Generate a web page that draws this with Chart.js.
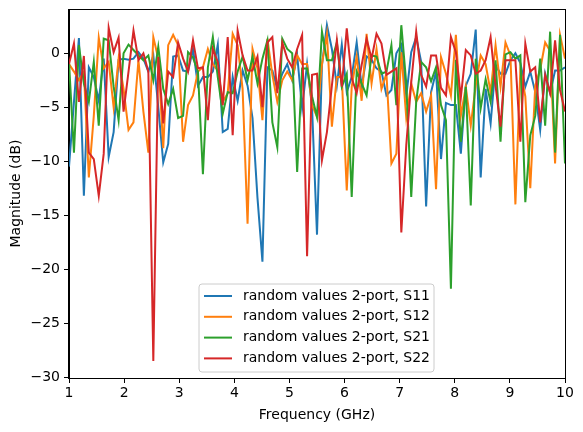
<!DOCTYPE html>
<html><head><meta charset="utf-8">
<script src="https://cdn.jsdelivr.net/npm/chart.js@4/dist/chart.umd.min.js"></script>
<style>html,body{margin:0;padding:0;background:#fff}canvas{display:block}</style>
</head><body>
<canvas id="c" width="583" height="432"></canvas>
<script>
// frequency sweep (GHz)
const freqStart = 1, freqStop = 10, nPoints = 101;
const seriesLabels = ['random values 2-port, S11','random values 2-port, S12','random values 2-port, S21','random values 2-port, S22'];
const xTickValues = [1,2,3,4,5,6,7,8,9,10];
const yTickValues = [-30,-25,-20,-15,-10,-5,0];

const s11 = [-10.5,-4.5,1.4,-13.2,-1.3,-2.2,-4.4,-0.5,-9.6,-7.3,
 -0.6,-0.5,-0.6,-0.5,0.1,-0.5,-1.7,-0.2,-5.0,-10.1,
 -8.4,-0.3,-0.2,-1.6,-1.7,0.4,-3.0,-2.2,-2.2,-1.7,
 0.8,-7.3,-7.0,-2.2,-4.4,-1.6,-3.0,-6.0,-13.4,-19.3,
 -1.3,-1.6,-3.3,-1.9,-1.0,-2.5,-0.2,-5.1,-1.0,-5.0,
 -16.8,-1.1,2.6,0.4,-3.0,0.8,-3.6,-2.2,1.0,-3.1,
 -0.3,-0.6,-1.4,-1.7,-3.9,-3.4,0.0,0.8,-4.0,0.1,
 1.5,-0.8,-14.2,-3.6,-1.7,-9.8,-4.6,-4.8,-4.8,-9.3,
 -3.0,-1.9,2.2,-11.5,-3.3,-6.5,-1.1,-1.9,-1.9,-0.65,
 0.0,-0.9,-3.1,-1.7,-3.6,-7.1,-1.9,-3.7,-1.6,-1.6,-1.3];
const s12 = [-1.0,-1.7,-2.5,-1.7,-11.5,-5.8,1.45,-1.4,-0.8,-5.0,
 -0.5,-3.3,-7.1,-6.4,-0.65,-5.4,-9.2,1.5,-0.5,-8.8,
 0.75,1.7,0.75,-8.2,-4.8,-3.9,-1.7,-1.3,0.4,-1.0,
 -1.6,-4.5,-3.7,1.8,0.75,-3.3,-15.8,0.4,-1.4,-6.2,
 1.35,-2.0,-4.5,-2.5,-1.7,-2.5,-0.2,-1.0,-1.0,-4.8,
 -5.9,-1.0,1.8,-6.8,-2.2,-2.2,-12.7,-3.1,-0.3,-4.4,
 1.8,-2.8,0.4,-3.3,-1.9,-10.2,-9.3,0.1,-6.0,-2.8,
 -4.5,-3.7,-5.4,-3.9,-12.6,-0.35,-1.9,-3.9,1.7,-5.8,
 -3.1,-6.7,-3.0,-0.2,-1.0,-3.6,0.75,-3.1,1.0,-0.2,
 -14.0,-1.5,-4.0,-12.5,-3.0,-1.5,1.0,0.2,-10.2,1.7,-0.5];
const s21 = [-0.8,-9.2,0.75,-2.8,-4.5,-0.8,-6.7,1.35,1.2,-3.1,
 -6.2,0.0,0.8,0.3,-0.2,-0.65,-0.2,-2.5,0.6,-3.3,
 -4.7,-3.3,-6.0,-5.8,0.1,-0.4,-1.7,-11.2,-1.3,1.5,
 -2.2,-5.6,-3.6,-3.7,-1.7,-0.3,-2.5,-0.3,-2.8,-0.5,
 1.2,-6.4,-8.7,1.35,0.4,0.0,-11.0,-1.4,-1.4,-4.0,
 -5.9,2.0,-0.65,-0.65,1.0,-3.1,-1.9,-13.3,-1.7,-2.8,
 -3.9,-0.2,-0.3,-1.9,-1.7,0.75,-4.8,2.6,-2.8,-13.3,
 -4.5,-0.8,-1.3,-2.6,-1.3,-4.8,-6.2,-21.8,-0.6,-8.2,
 -3.1,-14.1,-0.5,-5.1,-2.4,-4.5,-0.65,-8.2,-0.1,0.1,
 -0.5,-0.2,-13.8,-7.6,-5.8,-0.5,-6.7,2.0,-9.2,1.7,-10.2];
const s22 = [-1.0,0.9,-4.5,-0.25,-9.2,-9.8,-13.2,-9.3,2.35,0.1,
 1.45,-5.4,-1.7,2.1,-0.65,0.0,-1.7,-28.5,-0.35,-6.5,
 -1.7,-2.2,1.0,-0.5,-1.7,1.2,-1.4,-1.3,-6.2,0.4,
 -0.8,-4.8,1.5,-7.6,2.1,-0.2,-1.6,-1.6,-0.3,-5.0,
 1.0,1.5,-3.7,1.0,-0.5,-1.3,0.4,1.7,-18.8,-2.0,
 -1.9,-9.9,-7.3,-3.0,1.2,-3.1,2.3,-2.3,-3.7,-1.1,
 1.35,-0.5,1.8,0.9,-2.0,-1.7,-1.4,-16.6,-8.5,-2.7,
 2.0,-2.0,-3.1,-0.2,-0.2,-3.2,-3.9,1.5,0.1,-4.1,
 0.3,-0.2,-1.9,-1.6,-0.65,1.5,-3.0,-6.8,-0.65,-0.65,
 -0.65,-8.2,0.9,-1.7,-1.3,-6.4,-2.0,-3.7,1.2,-3.4,-5.4];

const seriesValues = [s11, s12, s21, s22];
const seriesColors = ['#1f77b4','#ff7f0e','#2ca02c','#d62728'];

const freq = [];
for (let i = 0; i < nPoints; i++) freq.push(freqStart + (freqStop - freqStart) * i / (nPoints - 1));

const FONT = '"DejaVu Sans", sans-serif';

const datasets = seriesValues.map((vals, k) => ({
  label: seriesLabels[k],
  data: vals.map((v, i) => ({x: freq[i], y: v})),
  borderColor: seriesColors[k],
  backgroundColor: seriesColors[k],
  borderWidth: 2,
  pointRadius: 0,
  tension: 0,
  fill: false,
  order: seriesValues.length - k
}));

const frameAndLegend = {
  id: 'frameAndLegend',
  afterDatasetsDraw(chart) {
    const ctx = chart.ctx, a = chart.chartArea;
    ctx.save();
    ctx.strokeStyle = '#000';
    ctx.lineWidth = 1;
    ctx.strokeRect(Math.round(a.left) + 0.5 - 1, Math.round(a.top) + 0.5, Math.round(a.right - a.left) + 1, Math.round(a.bottom - a.top));
    // legend box
    const bx = a.left + 130, by = a.top + 275, bw = 235, bh = 88, r = 3;
    ctx.beginPath();
    ctx.moveTo(bx + r, by);
    ctx.lineTo(bx + bw - r, by); ctx.quadraticCurveTo(bx + bw, by, bx + bw, by + r);
    ctx.lineTo(bx + bw, by + bh - r); ctx.quadraticCurveTo(bx + bw, by + bh, bx + bw - r, by + bh);
    ctx.lineTo(bx + r, by + bh); ctx.quadraticCurveTo(bx, by + bh, bx, by + bh - r);
    ctx.lineTo(bx, by + r); ctx.quadraticCurveTo(bx, by, bx + r, by);
    ctx.closePath();
    ctx.fillStyle = 'rgba(255,255,255,0.8)';
    ctx.fill();
    ctx.strokeStyle = '#cccccc';
    ctx.lineWidth = 1;
    ctx.stroke();
    ctx.font = '14px ' + FONT;
    ctx.textBaseline = 'middle';
    ctx.textAlign = 'left';
    for (let k = 0; k < seriesLabels.length; k++) {
      const yy = by + 12 + k * 20.8;
      ctx.strokeStyle = seriesColors[k];
      ctx.lineWidth = 2;
      ctx.beginPath();
      ctx.moveTo(bx + 5, yy); ctx.lineTo(bx + 33, yy);
      ctx.stroke();
      ctx.fillStyle = '#000';
      ctx.fillText(seriesLabels[k], bx + 44, yy);
    }
    ctx.restore();
  }
};

new Chart(document.getElementById('c'), {
  type: 'line',
  data: { datasets },
  plugins: [frameAndLegend],
  options: {
    responsive: false,
    animation: false,
    devicePixelRatio: 1,
    layout: { padding: { left: 0, right: 18, top: 9, bottom: 0 } },
    plugins: { legend: { display: false }, tooltip: { enabled: false } },
    scales: {
      x: {
        type: 'linear', min: 1, max: 10,
        afterBuildTicks(s) { s.ticks = xTickValues.map(v => ({value: v})); },
        afterFit(s) { s.height = 54; s.paddingLeft = 0; s.paddingRight = 0; },
        grid: { drawOnChartArea: false, drawTicks: true, tickLength: 5, color: '#000', tickWidth: 1 },
        border: { display: true, color: '#000', width: 1 },
        ticks: { color: '#000', font: { family: FONT, size: 14 }, padding: 2, maxRotation: 0,
                 callback: v => String(v) },
        title: { display: true, text: 'Frequency (GHz)', color: '#000', font: { family: FONT, size: 14 }, padding: { top: 0, bottom: 8 } }
      },
      y: {
        type: 'linear', min: -30.08, max: 4.1,
        afterBuildTicks(s) { s.ticks = yTickValues.map(v => ({value: v})); },
        afterFit(s) { s.width = 69; s.paddingTop = 0; s.paddingBottom = 0; },
        grid: { drawOnChartArea: false, drawTicks: true, tickLength: 5, color: '#000', tickWidth: 1 },
        border: { display: true, color: '#000', width: 1 },
        ticks: { color: '#000', font: { family: FONT, size: 14 }, padding: 4,
                 callback: v => (v < 0 ? '\u2212' + Math.abs(v) : String(v)) },
        title: { display: true, text: 'Magnitude (dB)', color: '#000', font: { family: FONT, size: 14 }, padding: { top: 8, bottom: 0 } }
      }
    }
  }
});
</script>
</body></html>
